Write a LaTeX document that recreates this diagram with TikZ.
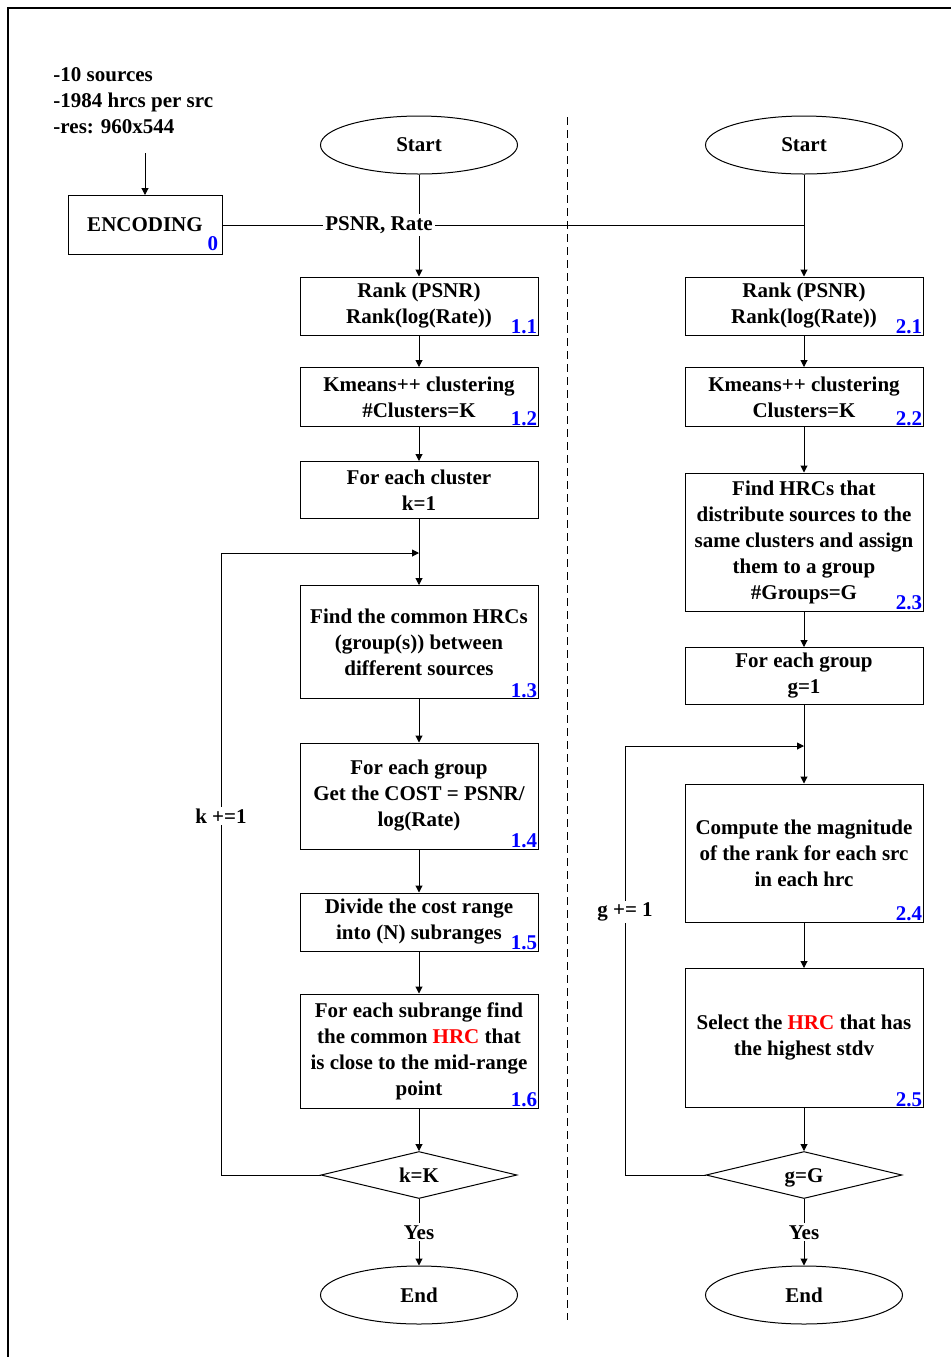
\documentclass[tikz,border=0pt]{standalone}
\usepackage{fontspec}
\setmainfont{Liberation Serif}
\usepackage{xcolor}
\usetikzlibrary{arrows.meta,shapes.geometric}
\definecolor{StepBlue}{HTML}{0000FF}
\definecolor{HrcRed}{HTML}{FF0000}

\begin{document}
\begin{tikzpicture}[x=0.5pt,y=-0.5pt,
    font=\fontsize{10.5}{13}\selectfont\bfseries,
    line width=0.5pt,
    proc/.style={draw, rectangle, minimum width=119pt, align=center, inner sep=2pt},
    term/.style={draw, ellipse, minimum width=98.5pt, minimum height=29pt, inner sep=0pt},
    test/.style={draw, diamond, aspect=4, minimum width=98pt, minimum height=23.5pt, inner sep=0pt,
      text height=7pt, text depth=0pt},
    stepno/.style={anchor=south east, text=StepBlue, inner sep=0.5pt},
    lbl/.style={fill=white, inner sep=1pt},
    arr/.style={-{Triangle[length=3.5pt,width=3.5pt]}}]
  \useasboundingbox (0,0) rectangle (950,1357);
  % Frame and separator
  \draw[line width=0.8pt] (8,1362) -- (8,8) -- (955,8);
  \draw[dash pattern=on 4pt off 2.5pt] (567,117) -- (567,1320);

  % Input and encoding
  \node[anchor=north west, align=left, inner sep=0pt] (info) at (53,67) {-10 sources\\-1984 hrcs per src\\-res: 960x544};
  \coordinate (src) at (145,153);
  \node[draw, minimum width=77pt, minimum height=29.5pt] (enc) at (145,225) {ENCODING};
  \node[stepno, inner sep=2pt] (n0) at (enc.south east) {0};

  % Left flow: clusters
  \node[term] (start1) at (419,145) {Start};
  \node[proc, minimum height=29pt] (rank1) at (419,306) {Rank (PSNR)\\Rank(log(Rate))};
  \node[proc, minimum height=29.5pt] (kmeans1) at (419,397) {Kmeans++ clustering\\\#Clusters=K};
  \node[proc, minimum height=28.5pt] (forclust) at (419,490) {For each cluster\\k=1};
  \node[proc, minimum height=56.5pt] (common) at (419,642) {Find the common HRCs\\(group(s)) between\\different sources};
  \node[proc, minimum height=53pt] (cost) at (419,796) {For each group\\Get the COST = PSNR/\\log(Rate)};
  \node[proc, minimum height=29pt] (divide) at (419,922) {Divide the cost range\\into (N) subranges};
  \node[proc, minimum height=57pt] (subrange) at (419,1051) {For each subrange find\\the common \textcolor{HrcRed}{HRC} that\\is close to the mid-range\\point};
  \node[test] (checkk) at (419,1175) {k=K};
  \node[term] (end1) at (419,1295) {End};
  \node[stepno] (n11) at (rank1.south east) {1.1};
  \node[stepno] (n12) at (kmeans1.south east) {1.2};
  \node[stepno] (n13) at (common.south east) {1.3};
  \node[stepno] (n14) at (cost.south east) {1.4};
  \node[stepno] (n15) at (divide.south east) {1.5};
  \node[stepno] (n16) at (subrange.south east) {1.6};

  % Right flow: groups
  \node[term] (start2) at (804,145) {Start};
  \node[proc, minimum height=29pt] (rank2) at (804,306) {Rank (PSNR)\\Rank(log(Rate))};
  \node[proc, minimum height=29.5pt] (kmeans2) at (804,397) {Kmeans++ clustering\\Clusters=K};
  \node[proc, minimum height=69pt] (findhrc) at (804,542) {Find HRCs that\\distribute sources to the\\same clusters and assign\\them to a group\\\#Groups=G};
  \node[proc, minimum height=28.5pt] (forgroup) at (804,676) {For each group\\g=1};
  \node[proc, minimum height=69pt] (magn) at (804,853) {Compute the magnitude\\of the rank for each src\\in each hrc};
  \node[proc, minimum height=69.5pt] (select) at (804,1038) {Select the \textcolor{HrcRed}{HRC} that has\\the highest stdv};
  \node[test] (checkg) at (804,1175) {g=G};
  \node[term] (end2) at (804,1295) {End};
  \node[stepno] (n21) at (rank2.south east) {2.1};
  \node[stepno] (n22) at (kmeans2.south east) {2.2};
  \node[stepno] (n23) at (findhrc.south east) {2.3};
  \node[stepno] (n24) at (magn.south east) {2.4};
  \node[stepno] (n25) at (select.south east) {2.5};

  % Connectors
  \draw[arr] (src) -- (enc.north);
  \draw (enc.east) -- (enc.east -| rank2.north);
  \draw[arr] (start1.south) -- (rank1.north);
  \draw[arr] (start2.south) -- (rank2.north);
  \draw[arr] (rank1) -- (kmeans1);
  \draw[arr] (kmeans1) -- (forclust);
  \draw[arr] (forclust) -- (common);
  \draw[arr] (common) -- (cost);
  \draw[arr] (cost) -- (divide);
  \draw[arr] (divide) -- (subrange);
  \draw[arr] (subrange) -- (checkk);
  \draw[arr] (checkk) -- (end1) node[midway, lbl] (yes1) {Yes};
  \draw[arr] (rank2) -- (kmeans2);
  \draw[arr] (kmeans2) -- (findhrc);
  \draw[arr] (findhrc) -- (forgroup);
  \draw[arr] (forgroup) -- (magn);
  \draw[arr] (magn) -- (select);
  \draw[arr] (select) -- (checkg);
  \draw[arr] (checkg) -- (end2) node[midway, lbl] (yes2) {Yes};

  % Loops back
  \coordinate (kturn) at (221,553);
  \coordinate (kin) at (419,553);
  \draw[arr] (checkk.west) -| (kturn) -- (kin);
  \coordinate (gturn) at (625,746);
  \coordinate (gin) at (804,746);
  \draw[arr] (checkg.west) -| (gturn) -- (gin);

  % Labels over lines
  \node[lbl] (meas) at (379,225) {PSNR, Rate};
  \node[lbl] (kinc) at (221,816) {k +=1};
  \node[lbl] (ginc) at (625,912) {g += 1};
\end{tikzpicture}
\end{document}
